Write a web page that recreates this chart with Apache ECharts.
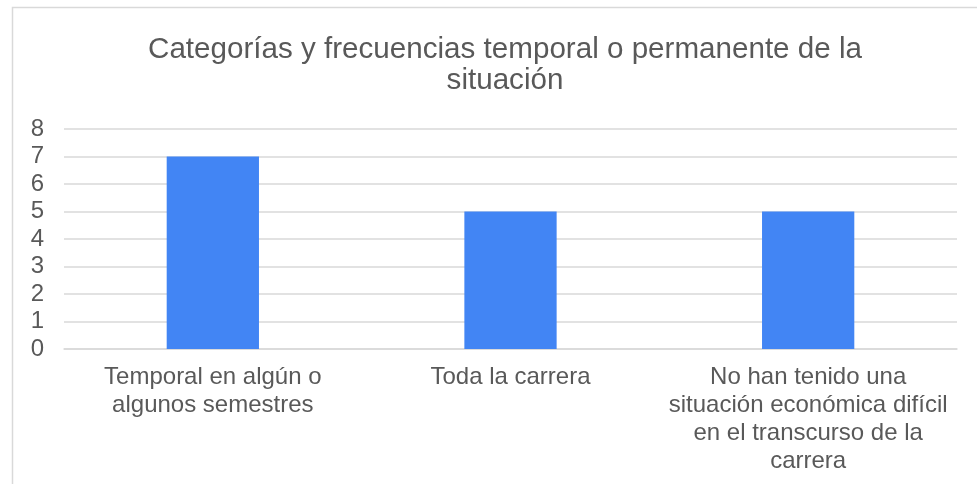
<!DOCTYPE html>
<html>
<head>
<meta charset="utf-8">
<script src="https://cdn.jsdelivr.net/npm/echarts@6/dist/echarts.min.js"></script>
<style>
  html, body { margin: 0; padding: 0; background: #fff; }
  #chart { width: 977px; height: 484px; }
</style>
</head>
<body>
<div id="chart"></div>
<script>
var titleText = 'Categorías y frecuencias temporal o permanente de la\nsituación'
var categories = [
  'Temporal en algún o\nalgunos semestres',
  'Toda la carrera',
  'No han tenido una\nsituación económica difícil\nen el transcurso de la\ncarrera'
]
var values = [7, 5, 5]

var chart = echarts.init(document.getElementById('chart'))
chart.setOption({
  animation: false,
  textStyle: { fontFamily: 'Liberation Sans, Arial, sans-serif' },
  graphic: [{
    type: 'rect',
    shape: { x: 12.5, y: 7.5, width: 1000, height: 600 },
    style: { fill: 'none', stroke: '#d9d9d9', lineWidth: 1.5 },
    silent: true
  }],
  title: {
    text: titleText,
    left: 500,
    top: 29,
    textAlign: 'center',
    textStyle: {
      fontSize: 29.6,
      fontWeight: 'normal',
      color: '#595959',
      lineHeight: 31
    }
  },
  grid: { left: 64, right: 20, top: 129, bottom: 135 },
  xAxis: {
    type: 'category',
    data: categories,
    axisLine: { lineStyle: { color: '#d9d9d9', width: 1.5 } },
    axisTick: { show: false },
    axisLabel: {
      color: '#595959',
      fontSize: 24,
      lineHeight: 28,
      margin: 14,
      interval: 0
    }
  },
  yAxis: {
    type: 'value',
    min: 0,
    max: 8,
    interval: 1,
    axisLine: { show: false },
    axisTick: { show: false },
    axisLabel: { color: '#595959', fontSize: 24, margin: 20 },
    splitLine: { lineStyle: { color: '#d9d9d9', width: 1.5 } }
  },
  series: [{
    type: 'bar',
    data: values,
    barWidth: '31%',
    itemStyle: { color: '#4285f4' }
  }]
})
</script>
</body>
</html>
